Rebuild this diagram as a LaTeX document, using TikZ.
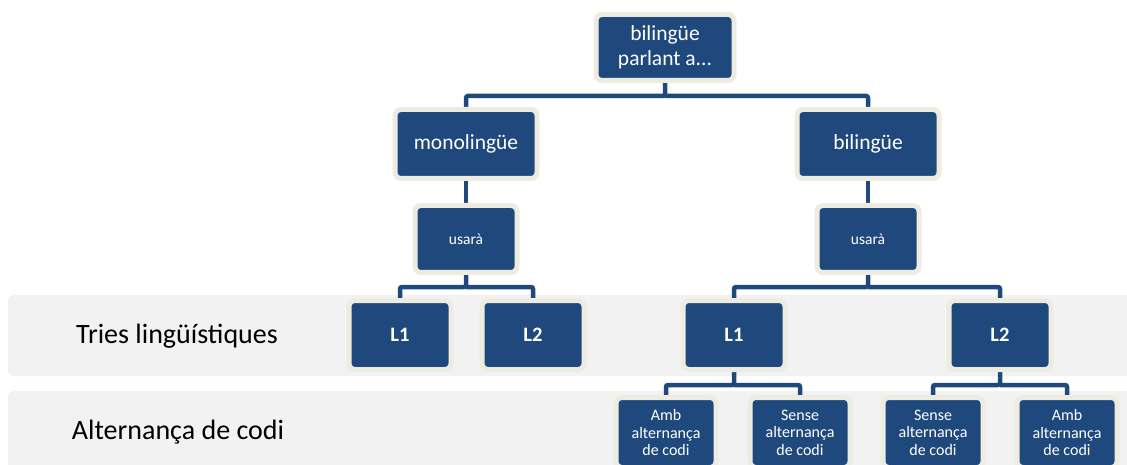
\documentclass[tikz,border=0pt]{standalone}
\usepackage{fontspec}
\setmainfont{Carlito}
\usetikzlibrary{backgrounds}

\definecolor{boxblue}{HTML}{1F497D}
\definecolor{boxrim}{HTML}{EEECE1}
\definecolor{bandgrey}{HTML}{F2F2F2}

\tikzset{
    orgbox/.style={rectangle, rounded corners=6pt, fill=boxblue, draw=boxrim,
        line width=5pt, text=white, align=center, inner sep=2pt},
    link/.style={draw=boxblue, line width=4.5pt, rounded corners=2pt},
    band/.style={fill=bandgrey, rounded corners=6pt},
    rowlabel/.style={font=\fontsize{28}{33}\selectfont, text=black},
}

\begin{document}
\begin{tikzpicture}[x=1pt,y=1pt]
    % Variables for the page size
    \def\picwidth{1127}
    \def\picheight{464}
    \useasboundingbox (0,0) rectangle (\picwidth,\picheight);

    % Top of the tree
    \node[orgbox, minimum width=138, minimum height=66,
        font=\fontsize{21.5}{25}\selectfont] (top) at (665,416.5) {bilingüe\\parlant a.{}.{}.};

    % Second level
    \node[orgbox, minimum width=142, minimum height=69,
        font=\fontsize{21.5}{25}\selectfont] (mono) at (466,320) {monolingüe};
    \node[orgbox, minimum width=142, minimum height=69,
        font=\fontsize{21.5}{25}\selectfont] (bil) at (868,320) {bilingüe};

    % usarà
    \node[orgbox, minimum width=102, minimum height=67,
        font=\fontsize{15.5}{18}\selectfont] (usaA) at (466,225) {usarà};
    \node[orgbox, minimum width=102, minimum height=67,
        font=\fontsize{15.5}{18}\selectfont] (usaB) at (868,225) {usarà};

    % Language choices
    \node[orgbox, minimum width=102, minimum height=69,
        font=\fontsize{20.5}{24}\selectfont\bfseries] (monoL1) at (400,129) {L1};
    \node[orgbox, minimum width=102, minimum height=69,
        font=\fontsize{20.5}{24}\selectfont\bfseries] (monoL2) at (533,129) {L2};
    \node[orgbox, minimum width=102, minimum height=69,
        font=\fontsize{20.5}{24}\selectfont\bfseries] (bilL1) at (734,129) {L1};
    \node[orgbox, minimum width=102, minimum height=69,
        font=\fontsize{20.5}{24}\selectfont\bfseries] (bilL2) at (1000,129) {L2};

    % Code switching
    \node[orgbox, minimum width=100, minimum height=70,
        font=\fontsize{16}{17.5}\selectfont] (ambA) at (666,31.5) {Amb\\alternança\\de codi};
    \node[orgbox, minimum width=100, minimum height=70,
        font=\fontsize{16}{17.5}\selectfont] (senseA) at (800,31.5) {Sense\\alternança\\de codi};
    \node[orgbox, minimum width=100, minimum height=70,
        font=\fontsize{16}{17.5}\selectfont] (senseB) at (933,31.5) {Sense\\alternança\\de codi};
    \node[orgbox, minimum width=100, minimum height=70,
        font=\fontsize{16}{17.5}\selectfont] (ambB) at (1067,31.5) {Amb\\alternança\\de codi};

    % Labels for the rows
    \node[rowlabel] (tries) at (177,128) {Tries lingüístiques};
    \node[rowlabel] (alter) at (178,32) {Alternança de codi};

    \begin{pgfonlayer}{background}
        % Grey bands
        \fill[band] (8,88) rectangle (\picwidth+20,169);
        \fill[band] (8,-20) rectangle (\picwidth+20,73);

        % Branch points
        \coordinate (j1) at (665,368);
        \coordinate (j2) at (466,177);
        \coordinate (j3) at (868,177);
        \coordinate (j4) at (734,79);
        \coordinate (j5) at (1000,79);

        % Connectors
        \draw[link] (top) -- (j1) -| (mono);
        \draw[link] (j1) -| (bil);
        \draw[link] (mono) -- (usaA);
        \draw[link] (bil) -- (usaB);
        \draw[link] (usaA) -- (j2) -| (monoL1);
        \draw[link] (j2) -| (monoL2);
        \draw[link] (usaB) -- (j3) -| (bilL1);
        \draw[link] (j3) -| (bilL2);
        \draw[link] (bilL1) -- (j4) -| (ambA);
        \draw[link] (j4) -| (senseA);
        \draw[link] (bilL2) -- (j5) -| (senseB);
        \draw[link] (j5) -| (ambB);
    \end{pgfonlayer}
\end{tikzpicture}
\end{document}
